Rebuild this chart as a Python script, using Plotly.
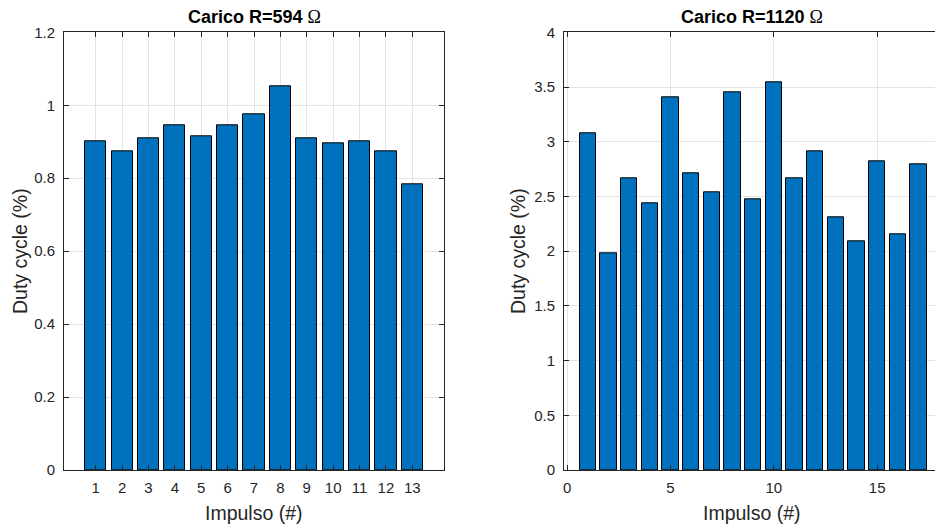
import plotly.graph_objects as go

# Duty cycle per impulse, two load resistances
impulses_594 = list(range(1, 14))
duty_594 = [0.902, 0.875, 0.909, 0.945, 0.915, 0.945, 0.975, 1.051,
            0.909, 0.895, 0.902, 0.875, 0.784]

impulses_1120 = list(range(1, 18))
duty_1120 = [3.073, 1.982, 2.662, 2.433, 3.409, 2.713, 2.539, 3.454,
             2.473, 3.539, 2.662, 2.911, 2.308, 2.086, 2.823, 2.150, 2.795]

titles = ["Carico R=594", "Carico R=1120"]
unit = "Ω"
x_label = "Impulso (#)"
y_label = "Duty cycle (%)"

W, H = 935, 526
BAR = "#0072BD"
AX = "#262626"
GRID = "#e3e3e3"
FONT = "Liberation Sans, Arial, sans-serif"

fig = go.Figure()
fig.add_trace(go.Bar(x=impulses_594, y=duty_594, width=0.8,
                     marker=dict(color=BAR, line=dict(color="black", width=1)),
                     xaxis="x", yaxis="y", showlegend=False))
fig.add_trace(go.Bar(x=impulses_1120, y=duty_1120, width=0.8,
                     marker=dict(color=BAR, line=dict(color="black", width=1)),
                     xaxis="x2", yaxis="y2", showlegend=False))

left_dom = [64 / W, 444 / W]
right_dom = [564 / W, 1.0]
y_dom = [1 - 470 / H, 1 - 32.3 / H]

common = dict(showgrid=True, gridcolor=GRID, gridwidth=1, zeroline=False,
              showline=True, linecolor=AX, linewidth=1, ticks="inside",
              ticklen=5, tickcolor=AX, automargin=False,
              tickfont=dict(family=FONT, size=15, color=AX))

fig.update_layout(
    width=W, height=H,
    margin=dict(l=0, r=0, t=0, b=0),
    paper_bgcolor="white", plot_bgcolor="white",
    bargap=0,
    xaxis=dict(domain=left_dom, range=[-0.2, 14.2], tickmode="array",
               tickvals=impulses_594, mirror="ticks", anchor="y",
               ticklabelstandoff=4, **common),
    yaxis=dict(domain=y_dom, range=[0, 1.2], tickmode="array",
               tickvals=[0, 0.2, 0.4, 0.6, 0.8, 1.0, 1.2],
               ticktext=["0", "0.2", "0.4", "0.6", "0.8", "1", "1.2"],
               mirror="ticks", anchor="x", ticklabelstandoff=5, **common),
    xaxis2=dict(domain=right_dom, range=[-0.15, 17.8], tickmode="array",
                tickvals=[0, 5, 10, 15], mirror="ticks", anchor="y2",
                ticklabelstandoff=4, **common),
    yaxis2=dict(domain=y_dom, range=[0, 4], tickmode="array",
                tickvals=[0, 0.5, 1, 1.5, 2, 2.5, 3, 3.5, 4],
                ticktext=["0", "0.5", "1", "1.5", "2", "2.5", "3", "3.5", "4"],
                mirror=False, anchor="x2", ticklabelstandoff=5, **common),
)

# Titles and axis labels placed in pixel terms
centers = [(64 + 444) / 2, (564 + 939) / 2]
ylab_x = [20, 518]
anns = []
for cx, t, yx in zip(centers, titles, ylab_x):
    anns.append(dict(x=cx / W, y=1 - 17 / H, xref="paper", yref="paper",
                     text="<b>" + t + "</b> <span style='font-family:Liberation Serif, serif'>"
                          + unit + "</span>",
                     showarrow=False, xanchor="center", yanchor="middle",
                     font=dict(family=FONT, size=18, color="black")))
    anns.append(dict(x=cx / W, y=1 - 513 / H, xref="paper", yref="paper",
                     text=x_label, showarrow=False,
                     xanchor="center", yanchor="middle",
                     font=dict(family=FONT, size=19.5, color=AX)))
    anns.append(dict(x=yx / W, y=1 - 251 / H, xref="paper", yref="paper",
                     text=y_label, showarrow=False, textangle=-90,
                     xanchor="center", yanchor="middle",
                     font=dict(family=FONT, size=19.5, color=AX)))
fig.update_layout(annotations=anns)

fig.write_html("out.html")
